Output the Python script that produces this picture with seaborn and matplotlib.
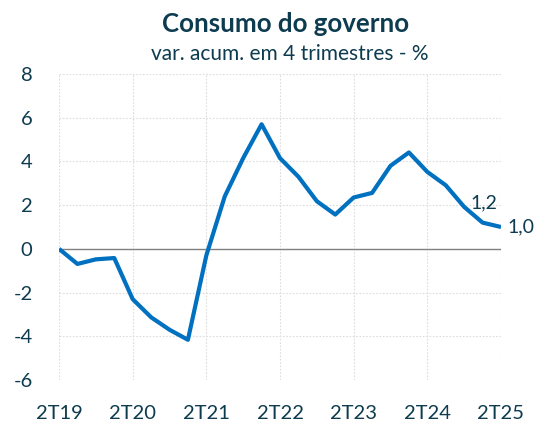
import matplotlib
matplotlib.use("Agg")
import matplotlib.pyplot as plt
import seaborn as sns
import pandas as pd

quarters = ["2T19", "3T19", "4T19", "1T20", "2T20", "3T20", "4T20", "1T21",
            "2T21", "3T21", "4T21", "1T22", "2T22", "3T22", "4T22", "1T23",
            "2T23", "3T23", "4T23", "1T24", "2T24", "3T24", "4T24", "1T25", "2T25"]
values = [0.0, -0.69, -0.48, -0.42, -2.3, -3.13, -3.7, -4.16,
          -0.3, 2.4, 4.15, 5.7, 4.15, 3.3, 2.18, 1.57,
          2.35, 2.56, 3.8, 4.41, 3.52, 2.91, 1.92, 1.2, 1.0]
tick_labels = ["2T19", "2T20", "2T21", "2T22", "2T23", "2T24", "2T25"]
y_ticks = [-6, -4, -2, 0, 2, 4, 6, 8]
annot_labels = ["1,2", "1,0"]

df = pd.DataFrame({"q": quarters, "v": values})
df["i"] = range(len(df))

sns.set_theme(style="white")
plt.rcParams["font.family"] = ["Lato", "DejaVu Sans"]
text_c = "#0d3b4f"

fig = plt.figure(figsize=(5.38, 4.21), dpi=100)
ax = fig.add_axes([59/538, 1-380/421, (501-59)/538, (380-74)/421])

sns.lineplot(data=df, x="i", y="v", ax=ax, color="#0070c0", linewidth=3.0,
             solid_capstyle="butt", zorder=3)
ax.axhline(0, color="#808080", linewidth=1.0, zorder=2)

tick_pos = [quarters.index(t) for t in tick_labels]
ax.set_xticks(tick_pos)
ax.set_xticklabels(tick_labels)
ax.set_yticks(y_ticks)
ax.set_yticklabels([str(t) for t in y_ticks])
ax.set_xlim(0, len(quarters) - 1)
ax.set_ylim(-6, 8)
ax.grid(True, color="#dcdcdc", linestyle=(0, (1.5, 1.5)), linewidth=0.8)
ax.set_axisbelow(True)
for s in ax.spines.values():
    s.set_visible(False)
ax.tick_params(axis="y", length=7, color="#dcdcdc", pad=12, labelsize=14.5, labelcolor=text_c)
ax.tick_params(axis="x", length=0, pad=18, labelsize=14.5, labelcolor=text_c)
ax.set_xlabel("")
ax.set_ylabel("")

n = len(quarters)
ax.annotate(annot_labels[0], (n - 2, values[-2]), xytext=(1, 20), textcoords="offset pixels",
            ha="center", va="center", fontsize=14, color=text_c)
ax.annotate(annot_labels[1], (n - 1, values[-1]), xytext=(6, 0), textcoords="offset pixels",
            ha="left", va="center", fontsize=14, color=text_c, annotation_clip=False)

fig.text(286/538, 1-24/421, "Consumo do governo", ha="center", va="center",
         fontsize=18.6, fontweight="bold", color=text_c)
fig.text(290/538, 1-54/421, "var. acum. em 4 trimestres - %", ha="center", va="center",
         fontsize=15, color=text_c)

fig.savefig("out.png", dpi=100)
